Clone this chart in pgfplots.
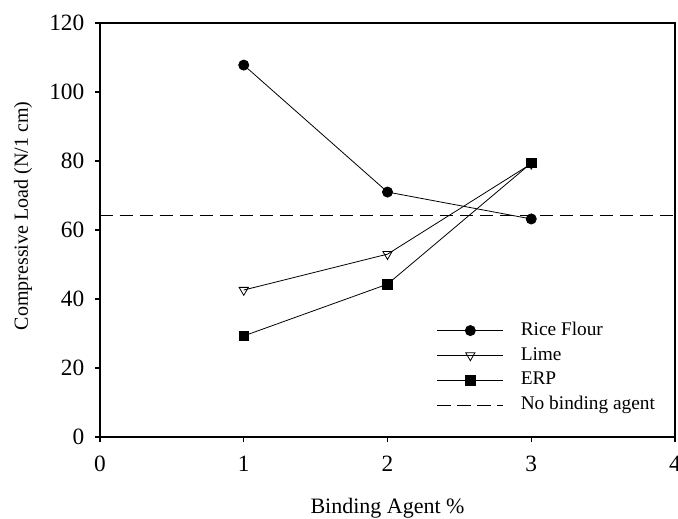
\documentclass[border=0pt]{standalone}
\usepackage{pgfplots}
\pgfplotsset{compat=1.18}
\usepackage{fontspec}
\setmainfont{Liberation Serif}
\begin{document}
\begin{tikzpicture}
\begin{axis}[
  name=ax,
  at={(0,0)}, anchor=south west,
  scale only axis,
  width=431.25pt, height=310.5pt,
  xmin=0, xmax=4, ymin=0, ymax=120,
  xtick={0,1,2,3,4}, ytick={0,20,40,60,80,100,120},
  xtick pos=left, ytick pos=left,
  tick align=outside,
  major tick length=3.75pt,
  axis line style={line width=0.8pt},
  every tick/.style={black, line width=0.8pt},
  /pgf/number format/assume math mode=true,
  tick label style={font=\fontsize{17.5}{20}\selectfont},
  yticklabel style={xshift=-4.5pt},
  xticklabel style={yshift=-7pt},
  xlabel={Binding Agent \%},
  ylabel={Compressive Load (N/1 cm)},
  xlabel style={font=\fontsize{16.5}{19}\selectfont, at={(axis description cs:0.5,-0.1715)}, anchor=center},
  ylabel style={font=\fontsize{15}{18}\selectfont, at={(axis description cs:-0.134,0.534)}, anchor=center},
  legend cell align=left,
  legend style={draw=none, fill=none, inner sep=0pt, outer sep=0pt,
    at={(axis description cs:0.586,0.278)}, anchor=north west,
    font=\fontsize{14.5}{17}\selectfont,
    nodes={inner sep=0pt, text height=10pt, text depth=3pt},
    row sep=5.6pt, column sep=12.75pt},
  legend image code/.code={
    \draw[mark repeat=2,mark phase=2,#1] plot coordinates {(0pt,0pt)(24.75pt,0pt)(49.5pt,0pt)};
  },
]
\addplot[black, line width=0.6pt, mark=*, mark size=3.8pt, mark options={solid, fill=black}]
  coordinates {(1,107.8) (2,71.0) (3,63.2)};
\addlegendentry{Rice Flour}
\addplot[black, line width=0.6pt, mark=triangle, mark size=4pt, mark options={solid, fill=white, rotate=180}]
  coordinates {(1,42.6) (2,53.0) (3,79.2)};
\addlegendentry{Lime}
\addplot[black, line width=0.6pt, mark=square*, mark size=3.6pt, mark options={solid, fill=black}]
  coordinates {(1,29.3) (2,44.3) (3,79.4)};
\addlegendentry{ERP}
\addplot[black, line width=0.6pt, dash pattern=on 10pt off 5pt]
  coordinates {(0,64.3) (4,64.3)};
\addlegendentry{No binding agent}
\end{axis}
\pgfresetboundingbox
\path[use as bounding box] (-75pt,-60.75pt) rectangle (433.5pt,327.75pt);
\end{tikzpicture}
\end{document}
